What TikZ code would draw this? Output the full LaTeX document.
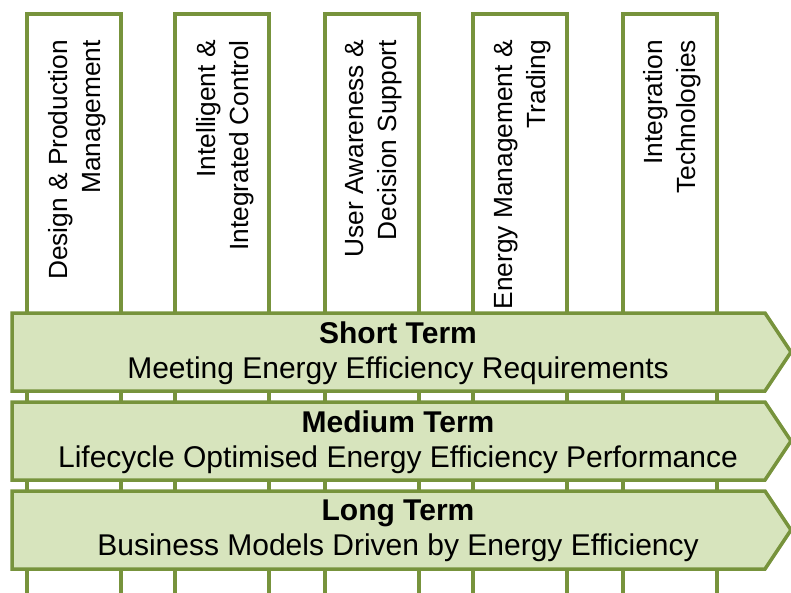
\documentclass[tikz,border=0pt]{standalone}
\usepackage{fontspec}
\setmainfont{Liberation Sans}
\definecolor{olive}{HTML}{77933C}
\definecolor{leaf}{HTML}{D7E4BD}
\begin{document}
\begin{tikzpicture}[x=1pt,y=-1pt,
        col/.style={draw=olive, line width=3.5pt, fill=white},
        band/.style={draw=olive, line width=3.5pt, fill=leaf},
        coltext/.style={rotate=90, anchor=east, align=right, inner sep=0pt, font=\fontsize{26.3}{33}\selectfont},
        bandtext/.style={align=center, inner sep=0pt, font=\fontsize{30}{35}\selectfont}]
        \useasboundingbox (0,0) rectangle (791,593);
        \clip (0,0) rectangle (791,593);
        % columns
        \foreach \x in {27,175,325,473,623}
            \draw[col] (\x,14) rectangle +(94,600);
        \node[coltext] (design) at (77,40) {Design \& Production\\Management};
        \node[coltext] (control) at (225,40) {Intelligent \&\\Integrated Control};
        \node[coltext] (support) at (374,40) {User Awareness \&\\Decision Support};
        \node[coltext] (trading) at (523,40) {Energy Management \&\\Trading};
        \node[coltext] (integration) at (672,40) {Integration\\Technologies};
        % terms
        \foreach \y in {313,402,491}
            \draw[band] (12,\y) -- (765,\y) -- (791,\y+39) -- (765,\y+78) -- (12,\y+78) -- cycle;
        \node[bandtext] (short) at (398,353) {\textbf{Short Term}\\Meeting Energy Efficiency Requirements};
        \node[bandtext] (medium) at (398,442) {\textbf{Medium Term}\\Lifecycle Optimised Energy Efficiency Performance};
        \node[bandtext] (long) at (398,531) {\textbf{Long Term}\\Business Models Driven by Energy Efficiency};
    \end{tikzpicture}
\end{document}
